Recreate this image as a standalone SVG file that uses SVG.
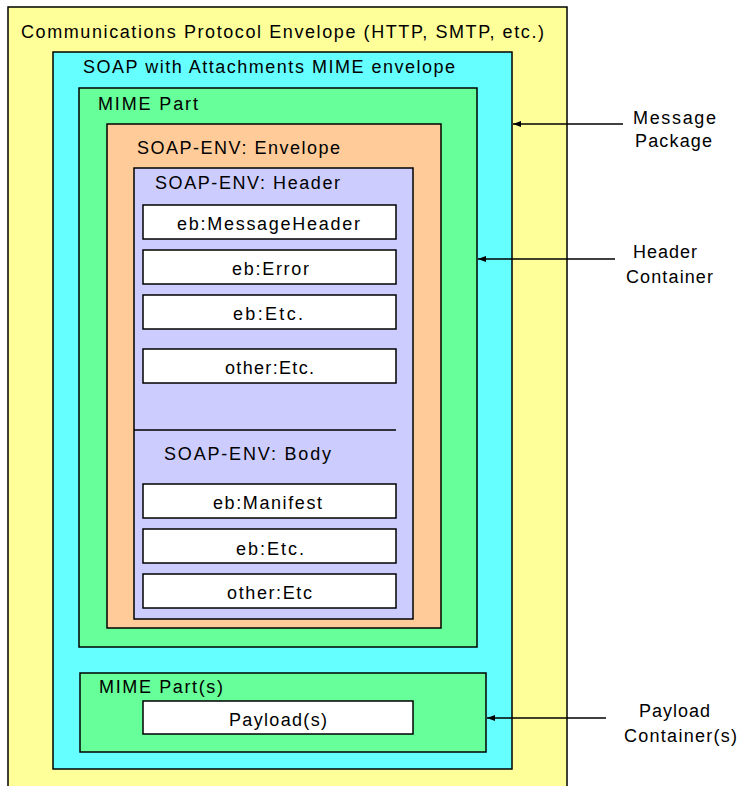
<svg xmlns="http://www.w3.org/2000/svg" width="738" height="786" viewBox="0 0 738 786">
<style>
  .box { stroke: #000; stroke-width: 1.5; }
  .yellow { fill: #FFFF99; }
  .cyan { fill: #66FFFF; }
  .green { fill: #66FF99; }
  .orange { fill: #FFCC99; }
  .lav { fill: #CCCCFF; }
  .white { fill: #FFFFFF; }
  text { font-family: "Liberation Sans", Arial, sans-serif; font-size: 18px; fill: #000; }
  .conn { stroke: #000; stroke-width: 1.5; fill: none; }
</style>
<defs>
  <marker id="arrow" markerUnits="userSpaceOnUse" markerWidth="8" markerHeight="6" viewBox="0 0 8 6" refX="8" refY="3" orient="auto">
    <path d="M0,0 L8,3 L0,6 z" fill="#000"/>
  </marker>
</defs>
<rect width="738" height="786" fill="#FFFFFF"/>

<g id="protocol-envelope">
  <rect class="box yellow" x="8" y="7" width="559" height="790"/>
  <text x="21" y="38" textLength="523" lengthAdjust="spacing">Communications Protocol Envelope (HTTP, SMTP, etc.)</text>
</g>

<g id="soap-mime-envelope">
  <rect class="box cyan" x="53" y="52" width="459" height="717"/>
  <text x="83" y="73" textLength="372" lengthAdjust="spacing">SOAP with Attachments MIME envelope</text>
</g>

<g id="mime-part">
  <rect class="box green" x="79" y="88" width="398" height="559"/>
  <text x="98" y="110" textLength="100" lengthAdjust="spacing">MIME Part</text>
</g>

<g id="soap-env-envelope">
  <rect class="box orange" x="107" y="124" width="334" height="504"/>
  <text x="137" y="154" textLength="203" lengthAdjust="spacing">SOAP-ENV: Envelope</text>
</g>

<g id="soap-env-header">
  <rect class="box lav" x="134" y="168" width="279" height="451"/>
  <text x="155" y="189" textLength="185" lengthAdjust="spacing">SOAP-ENV: Header</text>
  <line x1="134" y1="430" x2="396" y2="430" stroke="#000" stroke-width="1.5"/>
</g>

<g id="eb-messageheader">
  <rect class="box white" x="143" y="205" width="253" height="34"/>
  <text x="177" y="230" textLength="183" lengthAdjust="spacing">eb:MessageHeader</text>
</g>
<g id="eb-error">
  <rect class="box white" x="143" y="250" width="253" height="34"/>
  <text x="232" y="275" textLength="77" lengthAdjust="spacing">eb:Error</text>
</g>
<g id="eb-etc-header">
  <rect class="box white" x="143" y="295" width="253" height="34"/>
  <text x="233" y="320" textLength="70" lengthAdjust="spacing">eb:Etc.</text>
</g>
<g id="other-etc-header">
  <rect class="box white" x="143" y="349" width="253" height="34"/>
  <text x="225" y="374" textLength="89" lengthAdjust="spacing">other:Etc.</text>
</g>

<g id="soap-env-body">
  <text x="164" y="460" textLength="167" lengthAdjust="spacing">SOAP-ENV: Body</text>
</g>
<g id="eb-manifest">
  <rect class="box white" x="143" y="484" width="253" height="34"/>
  <text x="213" y="509" textLength="109" lengthAdjust="spacing">eb:Manifest</text>
</g>
<g id="eb-etc-body">
  <rect class="box white" x="143" y="529" width="253" height="34"/>
  <text x="236" y="555" textLength="68" lengthAdjust="spacing">eb:Etc.</text>
</g>
<g id="other-etc-body">
  <rect class="box white" x="143" y="574" width="253" height="34"/>
  <text x="227" y="599" textLength="85" lengthAdjust="spacing">other:Etc</text>
</g>

<g id="mime-parts">
  <rect class="box green" x="80" y="673" width="406" height="79"/>
  <text x="99" y="693" textLength="124" lengthAdjust="spacing">MIME Part(s)</text>
</g>
<g id="payloads">
  <rect class="box white" x="143" y="701" width="270" height="33"/>
  <text x="229" y="726" textLength="98" lengthAdjust="spacing">Payload(s)</text>
</g>

<g id="connectors">
  <line class="conn" x1="623" y1="124" x2="513" y2="124" marker-end="url(#arrow)"/>
  <line class="conn" x1="615" y1="259" x2="478" y2="259" marker-end="url(#arrow)"/>
  <line class="conn" x1="606" y1="718" x2="487" y2="718" marker-end="url(#arrow)"/>
</g>

<g id="label-message-package">
  <text x="633" y="124" textLength="83" lengthAdjust="spacing">Message</text>
  <text x="635" y="147" textLength="77" lengthAdjust="spacing">Package</text>
</g>
<g id="label-header-container">
  <text x="633" y="258" textLength="64" lengthAdjust="spacing">Header</text>
  <text x="626" y="283" textLength="87" lengthAdjust="spacing">Container</text>
</g>
<g id="label-payload-container">
  <text x="639" y="717" textLength="71" lengthAdjust="spacing">Payload</text>
  <text x="624" y="742" textLength="113" lengthAdjust="spacing">Container(s)</text>
</g>
</svg>
